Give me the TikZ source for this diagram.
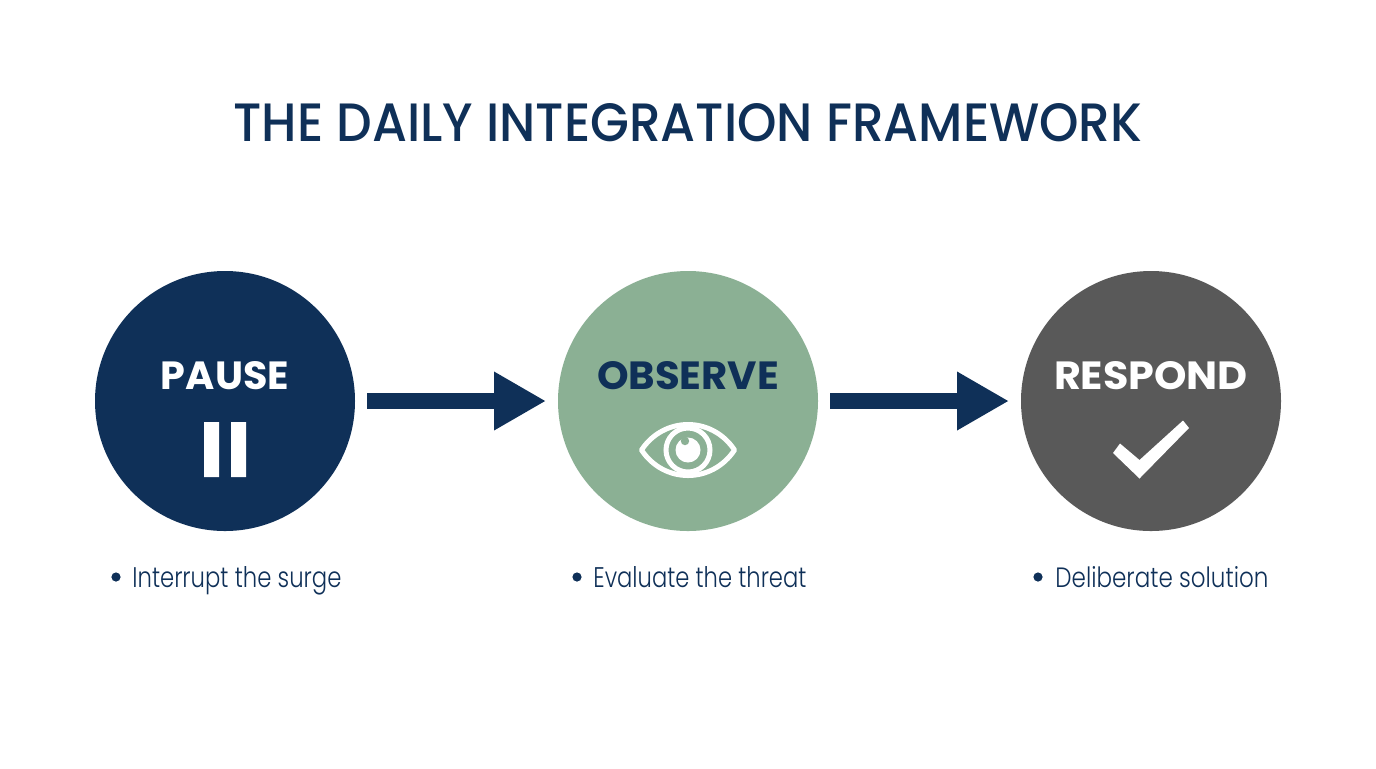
\documentclass[tikz,border=0pt]{standalone}
\usepackage{fontspec}
\usepackage{graphicx}
\setmainfont{Poppins}
\newfontfamily\lightfont{Poppins Light}
\newfontfamily\medfont{Poppins Medium}
\usetikzlibrary{arrows.meta}
\definecolor{navy}{HTML}{0F3058}
\definecolor{sage}{HTML}{8BB094}
\definecolor{slate}{HTML}{595959}
\newcommand{\fit}[3]{\resizebox{#1pt}{#2pt}{#3}}
\tikzset{
  stage/.style={circle,minimum size=130pt,inner sep=0pt,outer sep=0pt,draw=none},
  heading/.style={anchor=base,inner sep=0pt,font=\bfseries\fontsize{20}{20}\selectfont},
  note/.style={anchor=base west,inner sep=0pt,text=navy,font=\lightfont\fontsize{12}{12}\selectfont},
  dot/.style={circle,fill=navy,minimum size=4.6pt,inner sep=0pt},
  flow/.style={line width=8pt,draw=navy,shorten <=6pt,shorten >=6pt,-{Triangle[length=26pt,width=27.5pt]}},
  icon/.style={white,line width=2.5pt}
}
\begin{document}
\begin{tikzpicture}[x=0.5pt,y=-0.5pt]
\useasboundingbox (0,0) rectangle (1376,768);
\fill[white] (0,0) rectangle (1376,768);
\node[anchor=base,inner sep=0pt,text=navy,font=\medfont\fontsize{27}{27}\selectfont] (title) at (688,141) {\fit{454.5}{19}{THE DAILY INTEGRATION FRAMEWORK}};
\node[stage,fill=navy] (pause) at (225,401) {};
\node[stage,fill=sage] (observe) at (688,401) {};
\node[stage,fill=slate] (respond) at (1151,401) {};
\draw[flow] (pause) -- (observe);
\draw[flow] (observe) -- (respond);
\node[heading,text=white] (lpause) at (225,389) {\fit{64}{14}{PAUSE}};
\node[heading,text=navy] (lobserve) at (688,389) {\fit{91}{14}{OBSERVE}};
\node[heading,text=white] (lrespond) at (1151,389) {\fit{97}{14}{RESPOND}};
% pause icon
\fill[white] (204,422) rectangle (219,477) (231,422) rectangle (246,477);
% eye icon
\draw[icon,line join=round] (641.5,450) .. controls (664,416) and (712,416) .. (734.5,450) .. controls (712,484) and (664,484) .. cycle;
\draw[icon] (688,450) circle (22);
\fill[white] (688,450) circle (12.5);
\fill[sage] (685,441) circle (4.2);
% check icon
\fill[white] (1113,453) -- (1139.5,478.5) -- (1189,428) -- (1183,420.5) -- (1139.5,460) -- (1120,443.5) -- cycle;
% notes
\node[dot] (d1) at (116,577) {};
\node[note] (n1) at (132,587) {\fit{104.5}{10.5}{Interrupt the surge}};
\node[dot] (d2) at (577,577) {};
\node[note] (n2) at (593,587) {\fit{106.5}{10.5}{Evaluate the threat}};
\node[dot] (d3) at (1038,577) {};
\node[note] (n3) at (1055,587) {\fit{106.5}{10.5}{Deliberate solution}};
\end{tikzpicture}
\end{document}
